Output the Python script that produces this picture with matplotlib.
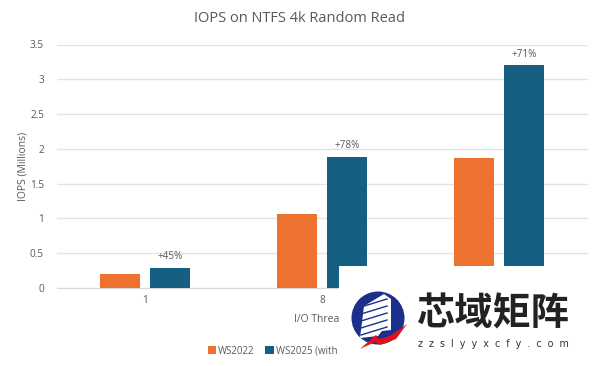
import matplotlib
matplotlib.use('Agg')
import matplotlib.pyplot as plt
from matplotlib.patches import Circle, Polygon, Rectangle
import numpy as np

# data
categories = ['1', '8', '']   # third label is hidden by the watermark
ws2022 = [0.2, 1.06, 1.87]
ws2025 = [0.29, 1.89, 3.2]
gains = ['+45%', '+78%', '+71%']
yticks = [0, 0.5, 1, 1.5, 2, 2.5, 3, 3.5]
ytick_labels = ['0', '0.5', '1', '1.5', '2', '2.5', '3', '3.5']

orange = '#ED7230'
blue = '#156082'
grey = '#595959'

plt.rcParams['font.family'] = ['Open Sans', 'DejaVu Sans']

fig = plt.figure(figsize=(6, 3.66), dpi=100)
ax = fig.add_axes([56.5 / 600, 1 - 288 / 366, 531 / 600, (288 - 44.5) / 366])

x = np.arange(len(categories))
w = 0.226
off = 0.143
ax.bar(x - off, ws2022, w, color=orange, label='WS2022', zorder=3)
bars = ax.bar(x + off, ws2025, w, color=blue, label='WS2025 (with', zorder=3)

for b, g in zip(bars, gains):
    ax.annotate(g, (b.get_x() + b.get_width() / 2, b.get_height()), xytext=(0, 4),
                textcoords='offset points', ha='center', va='bottom',
                fontsize=7.2, color=grey)

ax.set_xlim(-0.5, 2.5)
ax.set_ylim(0, 3.5)
ax.set_xticks(x)
ax.set_xticklabels(categories)
ax.set_yticks(yticks)
ax.set_yticklabels(ytick_labels)
ax.tick_params(length=0, labelsize=7.2, labelcolor=grey, pad=9)
ax.tick_params(axis='x', pad=5)
ax.grid(axis='y', color='#E3E3E3', linewidth=1, zorder=0)
for s in ax.spines.values():
    s.set_visible(False)
ax.spines['bottom'].set_visible(True)
ax.spines['bottom'].set_color('#D9D9D9')

ax.set_ylabel('IOPS (Millions)', fontsize=7.5, color=grey, labelpad=1)
ax.set_xlabel('I/O Threads', fontsize=7.5, color=grey, labelpad=6)
fig.text(0.5, 1 - 19 / 366, 'IOPS on NTFS 4k Random Read', ha='center', va='center',
         fontsize=10.5, color=grey)

fig.legend(loc='center left', bbox_to_anchor=(208 / 600, 1 - 351 / 366), ncol=2, frameon=False,
           fontsize=7, labelcolor=grey, handlelength=0.85, handleheight=0.85,
           handletextpad=0.2, columnspacing=1.1, borderpad=0, borderaxespad=0)

# watermark sits on top of the chart, drawn in pixel coordinates
top = fig.add_axes([0, 0, 1, 1], zorder=10)
top.set_xlim(0, 600)
top.set_ylim(366, 0)
top.axis('off')
top.patch.set_alpha(0)
top.add_patch(Rectangle((339, 266), 261, 100, color='white', lw=0))
top.add_patch(Circle((378, 318), 26.5, color='#1B2F8C', lw=0))
top.add_patch(Polygon([(360, 338), (364, 306), (384, 294), (391, 299), (391, 330), (382, 331), (378, 336)],
                      color='white', lw=0))
for y0 in [303, 310, 317, 324, 331]:
    top.plot([361, 387], [y0 + 4, y0 - 4], color='#1B2F8C', lw=1)
top.add_patch(Polygon([(360, 349), (376, 335), (379, 339), (390, 336), (407, 324),
                      (396, 339), (380, 345), (375, 342)], color='#E3101C', lw=0))
top.text(493.5, 314, '芯域矩阵', ha='center', va='center', fontsize=27.5, fontweight='bold',
         color='#222222', family=['Noto Sans CJK SC', 'DejaVu Sans'])
top.text(493.5, 344, 'z  z  s  l  y  y  x  c  f  y  .  c  o  m', ha='center', va='center',
         fontsize=6.9, color='#333333', family='DejaVu Sans')

fig.savefig('out.png', dpi=100)
